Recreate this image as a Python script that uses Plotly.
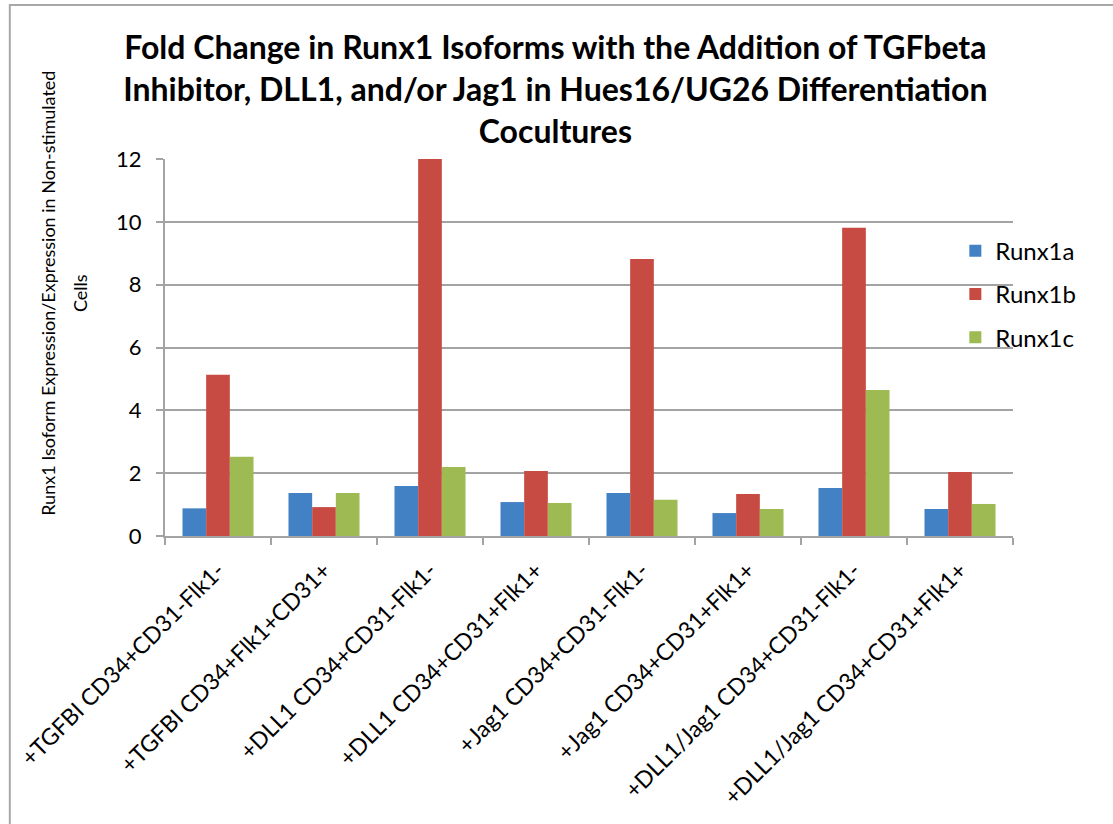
import plotly.graph_objects as go

# Culture conditions on the x axis
categories = [
    "+TGFBI CD34+CD31-Flk1-",
    "+TGFBI CD34+Flk1+CD31+",
    "+DLL1 CD34+CD31-Flk1-",
    "+DLL1 CD34+CD31+Flk1+",
    "+Jag1 CD34+CD31-Flk1-",
    "+Jag1 CD34+CD31+Flk1+",
    "+DLL1/Jag1 CD34+CD31-Flk1-",
    "+DLL1/Jag1 CD34+CD31+Flk1+",
]

# Fold change per isoform
runx1a = [0.88, 1.37, 1.59, 1.08, 1.37, 0.73, 1.53, 0.86]
runx1b = [5.13, 0.92, 12.0, 2.07, 8.82, 1.34, 9.81, 2.04]
runx1c = [2.52, 1.37, 2.20, 1.05, 1.15, 0.86, 4.65, 1.02]

series_names = ["Runx1a", "Runx1b", "Runx1c"]
series_values = [runx1a, runx1b, runx1c]
series_colors = ["#4281C3", "#C74B43", "#9DBB52"]

y_ticks = [0, 2, 4, 6, 8, 10, 12]

# Two-line y axis title
y_title_lines = ["Runx1 Isoform Expression/Expression in Non-stimulated", "Cells"]

FONT = "Lato, 'Open Sans', sans-serif"
GRID = "#A3A3A3"

fig = go.Figure()
for name, vals, col in zip(series_names, series_values, series_colors):
    fig.add_trace(go.Bar(
        name=name, x=categories, y=vals,
        marker=dict(color=col, line=dict(width=0)),
        legendgroup=name,
    ))

fig.update_layout(
    width=1113, height=824,
    margin=dict(l=165, r=100, t=159, b=288, autoexpand=False),
    paper_bgcolor="white", plot_bgcolor="white",
    barmode="group", bargap=0.33, bargroupgap=0,
    font=dict(family=FONT, color="black"),
    title=dict(
        text="Fold Change in Runx1 Isoforms with the Addition of TGFbeta<br>"
             "Inhibitor, DLL1, and/or Jag1 in Hues16/UG26 Differentiation<br>"
             "Cocultures",
        font=dict(family=FONT, size=32, color="black", weight="bold"),
        x=0.499, xanchor="center", xref="container",
        y=0.928, yanchor="middle", yref="container",
    ),
    legend=dict(
        x=0.932, xanchor="left", xref="paper",
        y=0.815, yanchor="top", yref="paper",
        font=dict(family=FONT, size=24, color="black"),
        traceorder="grouped", tracegroupgap=9,
        bgcolor="rgba(0,0,0,0)",
    ),
    showlegend=True,
)

fig.update_xaxes(
    type="category",
    tickangle=-45,
    tickfont=dict(family=FONT, size=23, color="black"),
    showline=True, linecolor=GRID, linewidth=2,
    ticks="outside", tickson="boundaries", ticklen=7, tickcolor=GRID, tickwidth=2,
    showgrid=False,
    ticklabelstandoff=10,
    automargin=False,
)
fig.update_yaxes(
    range=[0, 12], tickvals=y_ticks,
    tickfont=dict(family=FONT, size=22, color="black"),
    showline=True, linecolor=GRID, linewidth=2,
    ticks="outside", ticklen=7, tickcolor=GRID, tickwidth=2,
    showgrid=True, gridcolor=GRID, gridwidth=2,
    zeroline=False,
    ticklabelstandoff=10,
    automargin=False,
)

# y axis title, one annotation per line
for line, xpos in zip(y_title_lines, [-0.138, -0.100]):
    fig.add_annotation(
        text=line, textangle=-90, showarrow=False,
        xref="paper", yref="paper", x=xpos, y=0.645,
        xanchor="center", yanchor="middle",
        font=dict(family=FONT, size=18, color="black"),
    )

# Outer chart frame
fig.add_shape(
    type="rect", xref="paper", yref="paper",
    x0=-0.183, x1=1.3, y0=-1.2, y1=1.4085,
    line=dict(color="#A8A8A8", width=2), fillcolor="rgba(0,0,0,0)",
    layer="below",
)

fig.write_html("out.html")
